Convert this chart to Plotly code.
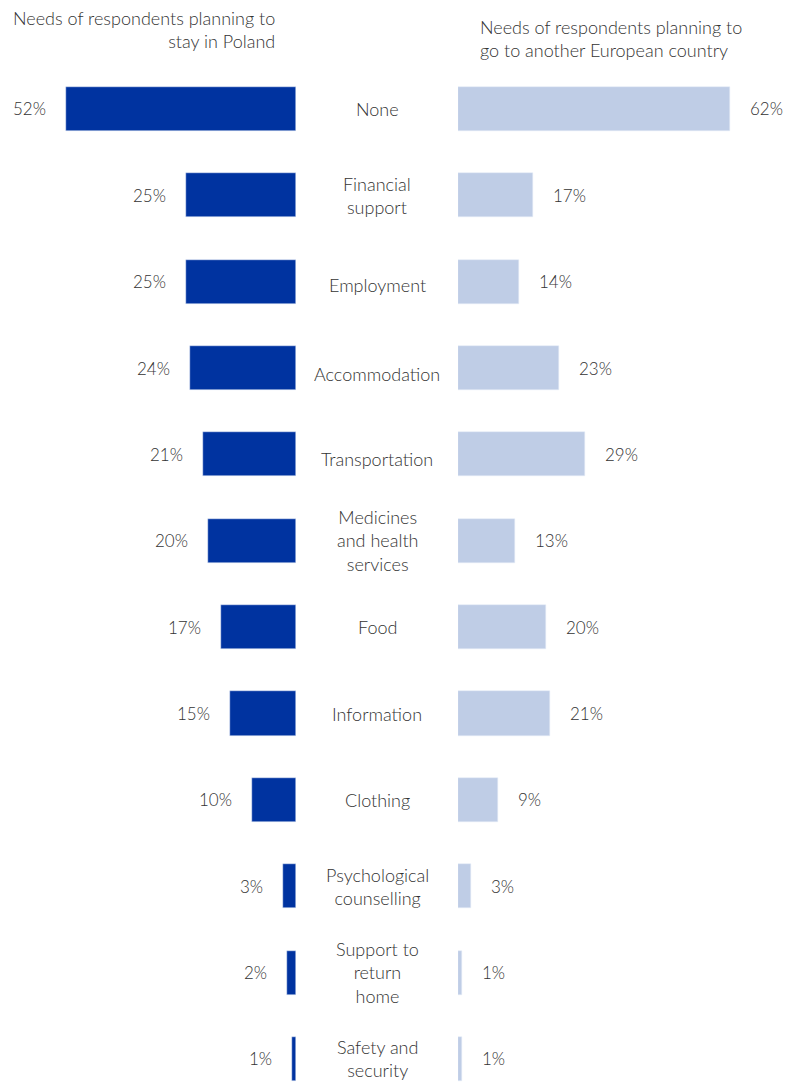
import plotly.graph_objects as go

categories = ["None", "Financial<br>support", "Employment", "Accommodation", "Transportation",
              "Medicines<br>and health<br>services", "Food", "Information", "Clothing",
              "Psychological<br>counselling", "Support to<br>return<br>home", "Safety and<br>security"]
stay_poland = [52, 25, 25, 24, 21, 20, 17, 15, 10, 3, 2, 1]
other_country = [62, 17, 14, 23, 29, 13, 20, 21, 9, 3, 1, 1]
header_left = "Needs of respondents planning to<br>stay in Poland"
header_right = "Needs of respondents planning to<br>go to another European country"

DARK = "#0033A0"
LIGHT = "#BFCDE6"
TXT = "#333333"
FONT = "Lato"
W, H = 794, 1082

# small vertical nudges of some category labels (style only)
label_nudge = {"Employment": 3, "Accommodation": 6, "Transportation": 5}

idx = list(range(len(categories)))

fig = go.Figure()
fig.add_trace(go.Bar(x=stay_poland, y=idx, orientation="h", marker_color=DARK,
                     width=0.51, xaxis="x", yaxis="y", hoverinfo="skip"))
fig.add_trace(go.Bar(x=other_country, y=idx, orientation="h", marker_color=LIGHT,
                     width=0.51, xaxis="x2", yaxis="y", hoverinfo="skip"))

vfont = dict(size=17, color=TXT, family=FONT, weight=300)
cfont = dict(size=18, color=TXT, family=FONT, weight=300)

annotations = []
for i, (a, b, c) in enumerate(zip(categories, stay_poland, other_country)):
    annotations.append(dict(x=b, y=i, xref="x", yref="y", text=f"{b}%", showarrow=False,
                            xanchor="right", xshift=-18, font=vfont))
    annotations.append(dict(x=c, y=i, xref="x2", yref="y", text=f"{c}%", showarrow=False,
                            xanchor="left", xshift=18, font=vfont))
    annotations.append(dict(x=377 / W, y=i, xref="paper", yref="y", text=a, showarrow=False,
                            xanchor="center", align="center", yshift=-label_nudge.get(a, 0),
                            font=cfont))

annotations.append(dict(x=277 / W, y=1 - 5 / H, xref="paper", yref="paper", text=header_left,
                        showarrow=False, xanchor="right", yanchor="top", align="right",
                        font=cfont))
annotations.append(dict(x=478 / W, y=1 - 14 / H, xref="paper", yref="paper", text=header_right,
                        showarrow=False, xanchor="left", yanchor="top", align="left",
                        font=cfont))

fig.update_layout(
    width=W, height=H,
    margin=dict(l=0, r=0, t=0, b=0),
    paper_bgcolor="white", plot_bgcolor="white",
    showlegend=False,
    xaxis=dict(domain=[0, 296 / W], range=[67, 0], visible=False, fixedrange=True),
    xaxis2=dict(domain=[458 / W, 1], range=[0, 76.5], visible=False, fixedrange=True),
    yaxis=dict(range=[11.267, -1.262], visible=False, fixedrange=True),
    annotations=annotations,
    bargap=0,
)
fig.write_html("out.html")
